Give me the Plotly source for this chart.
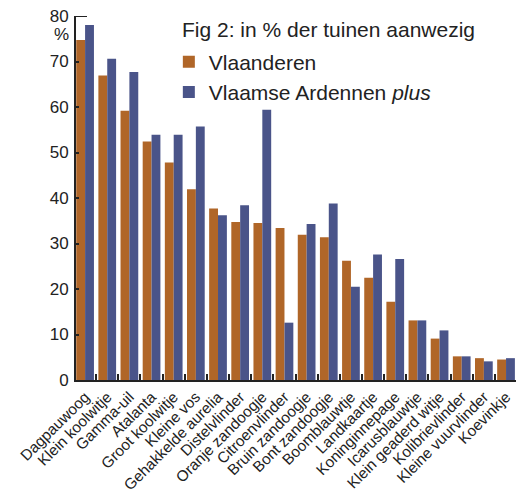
import plotly.graph_objects as go

categories = ["Dagpauwoog", "Klein koolwitje", "Gamma-uil", "Atalanta", "Groot koolwitje",
              "Kleine vos", "Gehakkelde aurelia", "Distelvlinder", "Oranje zandoogje",
              "Citroenvlinder", "Bruin zandoogje", "Bont zandoogje", "Boomblauwtje",
              "Landkaartje", "Koninginnepage", "Icarusblauwtje", "Klein geaderd witje",
              "Kolibrievlinder", "Kleine vuurvlinder", "Koevinkje"]
vlaanderen = [74.7, 66.9, 59.2, 52.4, 47.8, 41.9, 37.7, 34.7, 34.5, 33.4,
              31.9, 31.4, 26.2, 22.5, 17.2, 13.1, 9.1, 5.2, 4.8, 4.5]
ardennen = [78.0, 70.6, 67.7, 53.9, 53.9, 55.7, 36.2, 38.4, 59.4, 12.6,
            34.3, 38.8, 20.5, 27.6, 26.6, 13.1, 10.9, 5.2, 4.1, 4.8]
y_ticks = [0, 10, 20, 30, 40, 50, 60, 70, 80]
chart_title = "Fig 2: in % der tuinen aanwezig"

FONT = "Liberation Sans, Arial, sans-serif"
TXT = "#222222"

fig = go.Figure()
fig.add_trace(go.Bar(x=categories, y=vlaanderen, name="Vlaanderen",
                     marker=dict(color="#B06628", line=dict(width=0))))
fig.add_trace(go.Bar(x=categories, y=ardennen, name="Vlaamse Ardennen <i>plus</i>",
                     marker=dict(color="#4A5489", line=dict(width=0))))

# page body has an 8px default margin; figure sized to fit the 529x495 window
fig.update_layout(
    width=521, height=487,
    margin=dict(l=68, r=13, t=8, b=115, autoexpand=False),
    plot_bgcolor="white", paper_bgcolor="white",
    barmode="group", bargap=0.2, bargroupgap=0,
    font=dict(family=FONT, color=TXT),
    legend=dict(
        font=dict(size=21, family=FONT, color=TXT),
        x=0.211, y=0.93, xanchor="left", yanchor="top",
        bgcolor="rgba(0,0,0,0)", tracegroupgap=0, itemwidth=30,
    ),
    xaxis=dict(
        type="category", range=[-0.41, 19.45], automargin=False,
        showline=True, linecolor="#222222", linewidth=2,
        ticks="inside", ticklen=6, tickwidth=1.5, tickcolor="#222222",
        tickson="boundaries", tickangle=-45, ticklabeloverflow="allow",
        tickfont=dict(size=15.3, family=FONT, color=TXT),
        showgrid=False, zeroline=False,
    ),
    yaxis=dict(
        range=[0, 80], tickvals=y_ticks, automargin=False,
        showline=True, linecolor="#222222", linewidth=2,
        ticks="inside", ticklen=3, tickwidth=1.5, tickcolor="#222222",
        tickfont=dict(size=17, family=FONT, color=TXT),
        ticklabelstandoff=2, ticklabeloverflow="allow",
        showgrid=False, zeroline=False,
    ),
)
fig.add_annotation(text=chart_title, xref="paper", yref="paper", x=0.236, y=0.962,
                   xanchor="left", yanchor="middle", showarrow=False,
                   font=dict(size=21, family=FONT, color=TXT))
fig.add_annotation(text="%", xref="paper", yref="paper", x=-0.032, y=0.95,
                   xanchor="center", yanchor="middle", showarrow=False,
                   font=dict(size=17, family=FONT, color=TXT))
fig.add_shape(type="line", xref="paper", yref="y", x0=0, x1=0.025, y0=80, y1=80,
              line=dict(color="#222222", width=2))

fig.write_html("out.html")
